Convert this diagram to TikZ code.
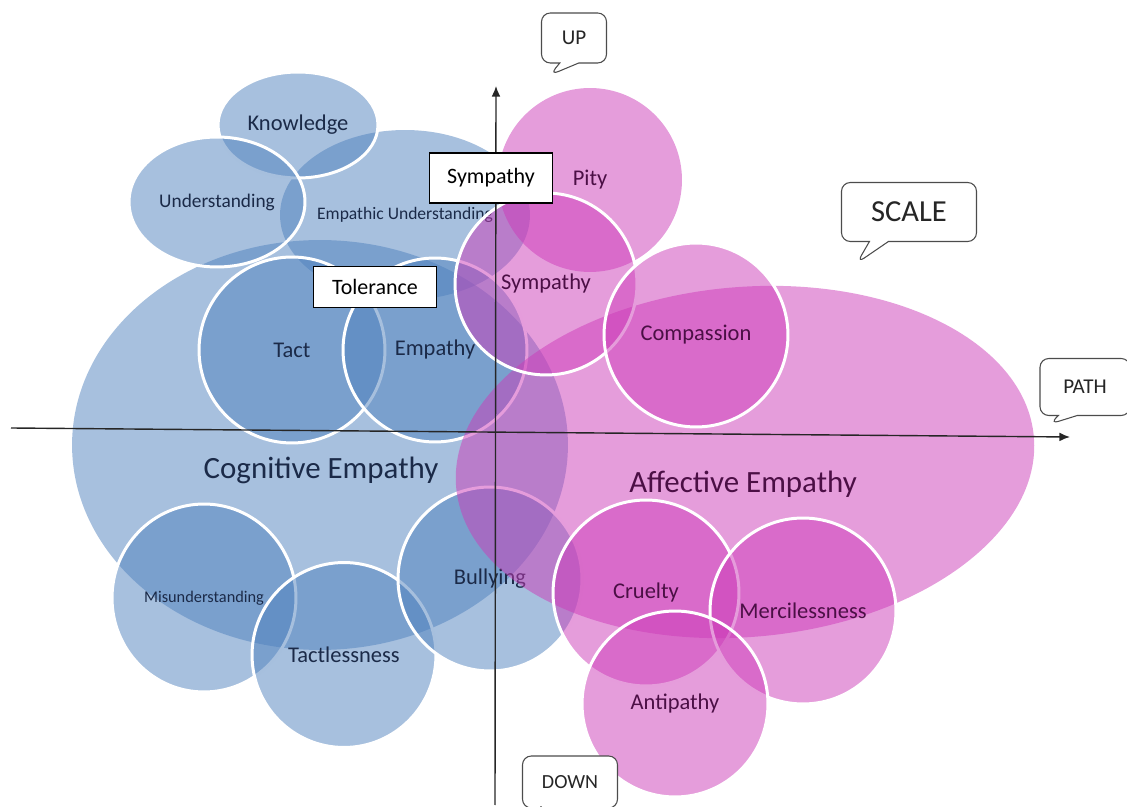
\documentclass[tikz,border=0pt]{standalone}
\usepackage{fontspec}
\setmainfont{Carlito}
\usetikzlibrary{shapes.geometric,shapes.callouts,arrows.meta}
\definecolor{cogblue}{HTML}{4F81BD}
\definecolor{affpink}{HTML}{CC3BB8}
\definecolor{cogtext}{HTML}{1B2A48}
\definecolor{afftext}{HTML}{4B0F45}
\tikzset{
    cogcloud/.style={
    ellipse,fill=cogblue,fill opacity=0.5,text opacity=1,text=cogtext,inner sep=0pt
    },
    cogspot/.style={
    cogcloud,draw=white,draw opacity=1,line width=1.7pt
    },
    affcloud/.style={
    ellipse,fill=affpink,fill opacity=0.5,text opacity=1,text=afftext,inner sep=0pt
    },
    affspot/.style={
    affcloud,draw=white,draw opacity=1,line width=1.7pt
    },
    tag/.style={
    rectangle,draw=black,fill=white,line width=0.7pt,font=\fontsize{12.5pt}{15pt}\selectfont
    },
    bubble/.style={
    rectangle callout,rounded corners=5pt,draw=black!70,fill=white,line width=0.6pt,
    callout pointer width=0.38cm,font=\fontsize{12pt}{14pt}\selectfont,text=black!85
    },
    axis/.style={
    draw=black!85,line width=0.8pt,-{Latex[length=6pt,width=5pt]}
    },
    biglabel/.style={
    font=\fontsize{17.6pt}{20pt}\selectfont
    },
    midfont/.style={
    font=\fontsize{12.8pt}{15pt}\selectfont
    },
}

\begin{document}
\begin{tikzpicture}[x=0.02cm, y=-0.02cm]
   \useasboundingbox (0,0) rectangle (1127,807);

   \node[cogcloud, minimum width=9.92cm, minimum height=8.2cm] (cog) at (320,445) {};
   \node[cogcloud, minimum width=5.0cm, minimum height=3.4cm, font=\fontsize{10pt}{12pt}\selectfont] (empund) at (405,215) {Empathic Understanding};
   \node[cogspot, midfont, minimum width=3.2cm, minimum height=2.12cm] (know) at (298,125) {Knowledge};
   \node[cogspot, minimum width=3.52cm, minimum height=2.6cm, font=\fontsize{11pt}{13pt}\selectfont] (und) at (217,202) {Understanding};
   \node[cogspot, midfont, minimum width=3.72cm, minimum height=3.72cm] (tact) at (292,350) {Tact};
   \node[cogspot, midfont, minimum width=3.68cm, minimum height=3.68cm] (emp) at (435,350) {Empathy};
   \node[cogspot, minimum width=3.68cm, minimum height=3.76cm, font=\fontsize{9.3pt}{11pt}\selectfont] (misund) at (204,598) {Misunderstanding};
   \node[cogspot, midfont, minimum width=3.68cm, minimum height=3.7cm] (tactless) at (344,655) {Tactlessness};
   \node[cogspot, midfont, minimum width=3.68cm, minimum height=3.68cm] (bully) at (490,579) {Bullying};

   \node[affcloud, rotate=5, minimum width=11.6cm, minimum height=7.0cm] (aff) at (745,462) {};
   \node[affcloud, midfont, minimum width=3.68cm, minimum height=3.68cm] (pity) at (590,180) {Pity};
   \node[affspot, midfont, minimum width=3.64cm, minimum height=3.64cm] (symp) at (546,284) {Sympathy};
   \node[affspot, midfont, minimum width=3.68cm, minimum height=3.68cm] (comp) at (696,335) {Compassion};
   \node[affspot, midfont, minimum width=3.72cm, minimum height=3.72cm] (cruel) at (646,593) {Cruelty};
   \node[affspot, midfont, minimum width=3.72cm, minimum height=3.72cm] (merc) at (803,611) {Mercilessness};
   \node[affspot, midfont, minimum width=3.72cm, minimum height=3.72cm] (anti) at (675,704) {Antipathy};

   \node[biglabel, text=cogtext] (coglbl) at (321,470) {Cognitive Empathy};
   \node[biglabel, text=afftext] (afflbl) at (743,484) {Affective Empathy};

   \coordinate (west) at (11,428);
   \coordinate (east) at (1070,437);
   \coordinate (south) at (495,805);
   \coordinate (north) at (496,86);
   \draw[axis] (west) -- (east);
   \draw[axis] (south) -- (north);

   \node[tag, minimum width=2.46cm, minimum height=1.0cm] (symtag) at (491,178) {Sympathy};
   \node[tag, minimum width=2.46cm, minimum height=0.82cm] (toltag) at (375,287) {Tolerance};

   \node[bubble, minimum width=1.3cm, minimum height=1.0cm, callout absolute pointer={(550,75)}] (up) at (574,38) {UP};
   \node[bubble, minimum width=2.7cm, minimum height=1.18cm, callout absolute pointer={(857,263)}, font=\fontsize{17.4pt}{20pt}\selectfont] (scale) at (909,212) {SCALE};
   \node[bubble, minimum width=1.8cm, minimum height=1.14cm, callout absolute pointer={(1050,424)}] (pathc) at (1085,387) {PATH};
   \node[bubble, minimum width=1.9cm, minimum height=1.04cm, callout absolute pointer={(540,815)}, font=\fontsize{11.4pt}{14pt}\selectfont] (down) at (570,782) {DOWN};
\end{tikzpicture}
\end{document}
